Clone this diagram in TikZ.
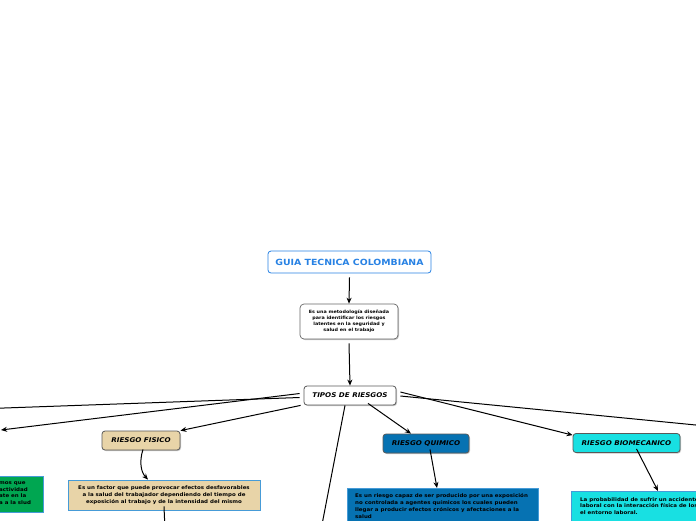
\documentclass[tikz,border=0pt]{standalone}
\usepackage{fontspec}
\setmainfont[FakeStretch=1.1]{DejaVu Sans}
\usetikzlibrary{arrows.meta,shadows}
\definecolor{guiablue}{RGB}{40,130,228}
\definecolor{bordblue}{RGB}{70,155,215}
\definecolor{tan}{RGB}{232,212,168}
\definecolor{qblue}{RGB}{6,114,178}
\definecolor{cyanb}{RGB}{24,224,226}
\definecolor{gr}{RGB}{0,166,81}
\tikzset{
  title/.style={draw=black!65, rounded corners=3pt, line width=0.8pt, inner sep=0pt,
    minimum height=19pt, font=\fontsize{6.5}{7.5}\selectfont\bfseries\itshape,
    drop shadow={shadow xshift=1pt, shadow yshift=-1pt, fill=black!45}},
  desc/.style={draw=bordblue, line width=0.8pt, inner sep=0pt,
    font=\fontsize{5}{6.8}\selectfont\bfseries},
  conn/.style={line width=1pt, black},
  arr/.style={conn, -{Stealth[length=6pt,width=5pt]}},
}
\begin{document}
\begin{tikzpicture}[x=1pt,y=-1pt]
\useasboundingbox (0,0) rectangle (696,520);
% top
\node[draw=guiablue, rounded corners=3pt, line width=0.8pt, fill=white,
  minimum width=163pt, minimum height=22pt, inner sep=0pt,
  text=guiablue, font=\fontsize{8.5}{9.5}\selectfont\bfseries] (guia) at (349.5,262) {GUIA TECNICA COLOMBIANA};
\node[draw=black!60, rounded corners=4pt, line width=0.7pt, fill=white,
  minimum width=98pt, minimum height=35pt, inner sep=0pt, align=center,
  font=\fontsize{4.4}{6}\selectfont\bfseries,
  drop shadow={shadow xshift=1pt, shadow yshift=-1pt, fill=black!45}] (met) at (349,321.5)
  {Es una metodología diseñada\\para identificar los riesgos\\latentes en la seguridad y\\salud en el trabajo};
\node[title, fill=white, minimum width=92pt] (tipos) at (350,395.5) {TIPOS DE RIESGOS};
% fisico
\node[title, fill=tan, minimum width=78pt] (fis) at (141,440.5) {RIESGO FISICO};
\node[desc, fill=tan, minimum width=192pt, minimum height=30pt, align=center] (fisd) at (164,495)
  {Es un factor que puede provocar efectos desfavorables\\a la salud del trabajador dependiendo del tiempo de\\exposición al trabajo y de la intensidad del mismo};
% quimico
\node[title, fill=qblue, minimum width=86pt] (qui) at (426,443.5) {RIESGO QUIMICO};
\node[desc, fill=qblue, minimum width=191pt, minimum height=46pt, anchor=north west] (quid) at (347,488) {};
\node[anchor=north west, align=left, inner sep=0pt, font=\fontsize{5}{6.8}\selectfont\bfseries] (quit) at (355,493.5)
  {Es un riesgo capaz de ser producido por una exposición\\no controlada a agentes químicos los cuales pueden\\llegar a producir efectos crónicos y afectaciones a la\\salud};
% biomecanico
\node[title, fill=cyanb, minimum width=107pt] (bio) at (626.5,443) {RIESGO BIOMECANICO};
\node[desc, fill=cyanb, minimum width=150pt, minimum height=40pt, anchor=north west] (biod) at (571,491) {};
\node[anchor=north west, align=left, inner sep=0pt, font=\fontsize{5}{6.8}\selectfont\bfseries] (biot) at (580,497)
  {La probabilidad de sufrir un accidente\\laboral con la interacción física de los\\el entorno laboral.};
% green (cut off)
\node[desc, fill=gr, minimum width=100pt, minimum height=36pt, anchor=north east] (grn) at (44,476) {};
\node[anchor=north west, align=left, inner sep=0pt, font=\fontsize{5}{6.6}\selectfont\bfseries] (grt) at (-1,481.5)
  {mos que\\ actividad\\ate en la\\a a la slud};
% off-screen ends
\coordinate (offL1) at (-10,408.5);
\coordinate (offL2) at (1,430);
\coordinate (offR) at (706,426);
\coordinate (offB) at (320,535);
\coordinate (offF) at (165,530);
% connectors
\draw[arr] (guia.south) ++(0,4) -- ([yshift=0pt]met.north);
\draw[arr] (met.south) ++(0,4) -- (tipos.north);
\draw[conn] ([xshift=-4pt,yshift=-2pt]tipos.west) -- (offL1);
\draw[arr] ([xshift=-4pt,yshift=2pt]tipos.west) -- (offL2);
\draw[arr] ([xshift=-3pt]tipos.south west) -- (fis.north east);
\draw[conn] ([xshift=-5pt]tipos.south) -- (offB);
\draw[arr] ([xshift=18pt,yshift=2pt]tipos.south) -- ([xshift=-15pt]qui.north);
\draw[arr] ([xshift=4pt,yshift=3.5pt]tipos.east) -- ([yshift=-2pt]bio.north west);
\draw[conn] ([xshift=4pt,yshift=-0.5pt]tipos.east) -- (offR);
\draw[arr] ([xshift=2pt,yshift=1pt]fis.south) .. controls (139,462) and (141,472) .. ([xshift=-16pt]fisd.north);
\draw[conn] ([yshift=4pt]fisd.south) -- (offF);
\draw[arr] ([xshift=4pt,yshift=4pt]qui.south) -- ([xshift=90pt]quid.north west);
\draw[arr] ([xshift=10pt,yshift=4pt]bio.south) -- ([xshift=87pt]biod.north west);
\end{tikzpicture}
\end{document}
